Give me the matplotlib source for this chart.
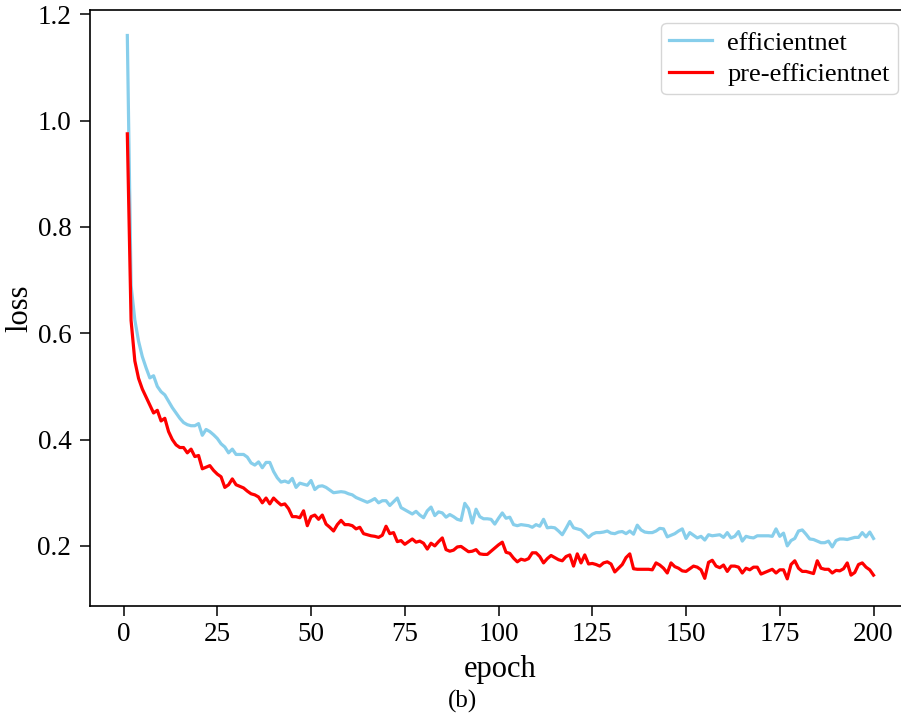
import numpy as np
import matplotlib
matplotlib.use("Agg")
import matplotlib.pyplot as plt

# loss per epoch
efficientnet = [
    1.16, 0.69, 0.625, 0.585, 0.556, 0.535, 0.516, 0.52, 0.50, 0.49,
    0.484, 0.472, 0.46, 0.45, 0.44, 0.432, 0.428, 0.426, 0.426, 0.43,
    0.408, 0.419, 0.415, 0.409, 0.402, 0.392, 0.386, 0.375, 0.382, 0.372,
    0.372, 0.372, 0.367, 0.356, 0.352, 0.358, 0.347, 0.357, 0.357, 0.34,
    0.328, 0.32, 0.322, 0.319, 0.327, 0.31, 0.318, 0.316, 0.314, 0.323,
    0.306, 0.312, 0.313, 0.31, 0.305, 0.3, 0.301, 0.302, 0.301, 0.298,
    0.296, 0.291, 0.288, 0.285, 0.282, 0.285, 0.289, 0.281, 0.285, 0.285,
    0.276, 0.283, 0.29, 0.272, 0.268, 0.264, 0.26, 0.265, 0.258, 0.253,
    0.266, 0.273, 0.257, 0.264, 0.262, 0.254, 0.259, 0.255, 0.25, 0.248,
    0.28, 0.27, 0.243, 0.269, 0.255, 0.251, 0.251, 0.25, 0.241, 0.252,
    0.262, 0.252, 0.254, 0.24, 0.238, 0.24, 0.239, 0.238, 0.235, 0.24,
    0.237, 0.25, 0.234, 0.235, 0.234, 0.228, 0.221, 0.233, 0.246, 0.234,
    0.232, 0.23, 0.223, 0.216, 0.222, 0.225, 0.225, 0.226, 0.228, 0.224,
    0.223, 0.226, 0.227, 0.223, 0.228, 0.222, 0.239, 0.23, 0.226, 0.225,
    0.225, 0.228, 0.233, 0.232, 0.217, 0.22, 0.223, 0.228, 0.232, 0.214,
    0.225, 0.22, 0.215, 0.218, 0.211, 0.221, 0.219, 0.22, 0.221, 0.216,
    0.225, 0.215, 0.218, 0.227, 0.209, 0.218, 0.216, 0.215, 0.219, 0.219,
    0.219, 0.219, 0.218, 0.232, 0.218, 0.224, 0.2, 0.21, 0.214, 0.228,
    0.23, 0.222, 0.213, 0.212, 0.209, 0.206, 0.206, 0.209, 0.198, 0.21,
    0.213, 0.213, 0.212, 0.214, 0.216, 0.216, 0.225, 0.217, 0.226, 0.214,
]

pre_efficientnet = [
    0.975, 0.624, 0.548, 0.515, 0.495, 0.48, 0.465, 0.45, 0.455, 0.435,
    0.44, 0.415, 0.40, 0.39, 0.385, 0.385, 0.375, 0.382, 0.368, 0.37,
    0.345, 0.348, 0.351, 0.342, 0.335, 0.33, 0.31, 0.315, 0.326, 0.315,
    0.312, 0.309, 0.303, 0.298, 0.296, 0.292, 0.281, 0.29, 0.279, 0.29,
    0.283, 0.277, 0.279, 0.27, 0.255, 0.255, 0.253, 0.266, 0.238, 0.255,
    0.258, 0.25, 0.258, 0.241, 0.235, 0.228, 0.24, 0.248, 0.24, 0.24,
    0.238, 0.232, 0.235, 0.223, 0.221, 0.219, 0.218, 0.216, 0.22, 0.237,
    0.223, 0.225, 0.208, 0.21, 0.203, 0.208, 0.213, 0.207, 0.209, 0.205,
    0.194, 0.205, 0.2, 0.208, 0.215, 0.193, 0.19, 0.192, 0.198, 0.199,
    0.194, 0.189, 0.19, 0.193, 0.185, 0.184, 0.184, 0.19, 0.196, 0.202,
    0.207, 0.188, 0.186, 0.177, 0.17, 0.175, 0.173, 0.176, 0.187, 0.187,
    0.18, 0.168, 0.176, 0.182, 0.178, 0.174, 0.172, 0.18, 0.183, 0.162,
    0.185, 0.168, 0.183, 0.166, 0.167, 0.165, 0.162, 0.168, 0.17, 0.166,
    0.151, 0.158, 0.165, 0.178, 0.185, 0.157, 0.156, 0.156, 0.156, 0.156,
    0.155, 0.168, 0.164, 0.158, 0.149, 0.168, 0.161, 0.158, 0.153, 0.152,
    0.157, 0.162, 0.16, 0.155, 0.139, 0.169, 0.173, 0.162, 0.159, 0.164,
    0.152, 0.162, 0.162, 0.16, 0.149, 0.158, 0.155, 0.16, 0.16, 0.147,
    0.15, 0.153, 0.156, 0.149, 0.155, 0.155, 0.138, 0.165, 0.172, 0.158,
    0.152, 0.152, 0.15, 0.148, 0.172, 0.158, 0.156, 0.156, 0.149, 0.154,
    0.153, 0.157, 0.168, 0.145, 0.15, 0.165, 0.168, 0.16, 0.155, 0.145,
]

epochs = np.arange(1, len(efficientnet) + 1)
xticks = [0, 25, 50, 75, 100, 125, 150, 175, 200]
yticks = [0.2, 0.4, 0.6, 0.8, 1.0, 1.2]

plt.rcParams["font.family"] = ["Liberation Serif", "DejaVu Serif"]

fig = plt.figure(figsize=(9.01, 7.22), dpi=100)
# right edge of the axes sits just past the picture, as in the original crop
ax = fig.add_axes([0.0999, 0.1607, 0.911, 0.8255])

ax.plot(epochs, efficientnet, color="skyblue", lw=2.3, label="efficientnet")
ax.plot(epochs, pre_efficientnet, color="red", lw=2.3, label="pre-efficientnet")

ax.set_xlim(-8.95, 209.95)
ax.set_ylim(0.087, 1.208)
ax.set_xticks(xticks)
ax.set_yticks(yticks)
ax.set_yticklabels(["%.1f" % v for v in yticks])
ax.tick_params(labelsize=19.5, length=7.5, width=1.1, direction="out")
ax.tick_params(axis="x", pad=4)
ax.tick_params(axis="y", pad=6)
for s in ax.spines.values():
    s.set_linewidth(1.2)

ax.set_xlabel("epoch", fontsize=22, labelpad=6)
ax.set_ylabel("loss", fontsize=22, labelpad=2)

ax.legend(loc="upper right", fontsize=19, labelspacing=0.3, handlelength=1.6,
          handletextpad=0.6, borderpad=0.3, borderaxespad=0.5)

fig.text(0.513, 0.028, "(b)", fontsize=18, ha="center", va="center")

fig.savefig("out.png", dpi=100)
